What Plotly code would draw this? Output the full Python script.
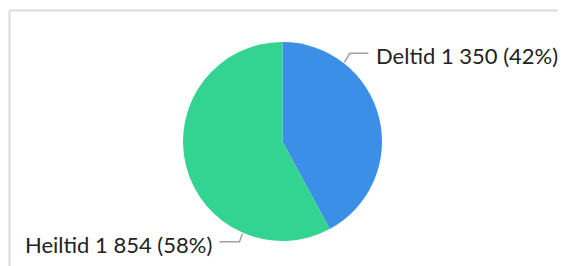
import math
import plotly.graph_objects as go

# ---- data ----
labels = ["Deltid", "Heiltid"]
values = [1350, 1854]
colors = ["#3b8fe7", "#33d391"]
label_angles = [38.0, 203.5]   # where the leader lines leave the pie (deg clockwise from top)

W, H = 566, 266
OFF = 8  # page body margin
CX, CY, R = 282.5 - OFF, 141.5 - OFF, 99.5


def px(x):
    return x / W


def py(y):
    return 1 - y / H


def fmt(v):
    return f"{v:,}".replace(",", " ")


total = sum(values)

fig = go.Figure(
    go.Pie(
        labels=labels,
        values=values,
        marker=dict(colors=colors, line=dict(width=0)),
        sort=False,
        direction="clockwise",
        rotation=0,
        textinfo="none",
        hoverinfo="label+value+percent",
        domain=dict(x=[px(CX - R), px(CX + R)], y=[py(CY + R), py(CY - R)]),
        showlegend=False,
    )
)

shapes = [
    dict(type="line", xref="paper", yref="paper", x0=px(9.5 - OFF), x1=px(W + 5), y0=py(10.5 - OFF), y1=py(10.5 - OFF),
         line=dict(color="#dcdcdc", width=2)),
    dict(type="line", xref="paper", yref="paper", x0=px(9.5 - OFF), x1=px(9.5 - OFF), y0=py(10.5 - OFF), y1=py(H + 5),
         line=dict(color="#dcdcdc", width=2)),
]
annotations = []
for lab, v, ang in zip(labels, values, label_angles):
    a = math.radians(ang)
    sx, sy = CX + (R + 1) * math.sin(a), CY - (R + 1) * math.cos(a)
    right = math.sin(a) > 0
    down = math.cos(a) < 0
    ex = sx + (5.5 if right else -3)
    ey = sy + (8 if down else -9)
    hx = ex + (18.5 if right else -20)
    shapes.append(dict(type="path", xref="paper", yref="paper",
                       path=f"M {px(sx)},{py(sy)} L {px(ex)},{py(ey)} L {px(hx)},{py(ey)}",
                       line=dict(color="#a0a0a0", width=1.5)))
    pct = round(100 * v / total)
    annotations.append(dict(
        text=f"{lab} {fmt(v)} ({pct}%)",
        xref="paper", yref="paper",
        x=px(hx + (6 if right else -5)), y=py(ey + 2.5),
        xanchor="left" if right else "right", yanchor="middle",
        showarrow=False,
        font=dict(family="Lato, 'Noto Sans', sans-serif", size=22, color="#222222"),
    ))

fig.update_layout(
    width=W, height=H,
    margin=dict(l=0, r=0, t=0, b=0),
    paper_bgcolor="white",
    plot_bgcolor="white",
    shapes=shapes,
    annotations=annotations,
)

fig.write_html("out.html")
